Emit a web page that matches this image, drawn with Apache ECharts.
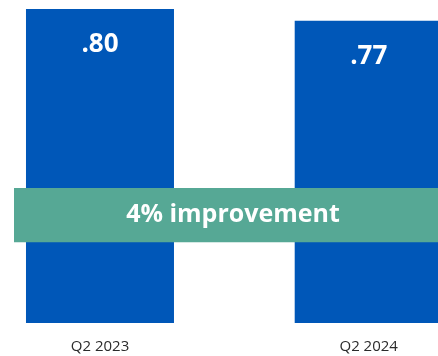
<!DOCTYPE html>
<html>
<head>
<meta charset="utf-8">
<script src="https://cdn.jsdelivr.net/npm/echarts@6/dist/echarts.min.js"></script>
<style>
  html, body { margin: 0; padding: 0; background: #ffffff; }
  #chart { width: 438px; height: 356px; }
</style>
</head>
<body>
<div id="chart"></div>
<script>
// Quarter labels and the metric value for each quarter
const categories = ['Q2 2023', 'Q2 2024'];
const values = [0.80, 0.77];
// Vertical span (in value units) of the highlight band across the bars
const bandRange = [0.206, 0.344];

const FONT = '"Open Sans", "Noto Sans", sans-serif';
const BLUE = '#0057B8';
const GREEN = '#56A895';

// Relative improvement between the two quarters
const improvement = Math.round((values[0] - values[1]) / values[0] * 100);

const chart = echarts.init(document.getElementById('chart'), null, { renderer: 'canvas' });

chart.setOption({
  animation: false,
  backgroundColor: '#ffffff',
  grid: { left: 14, right: -14, top: 9, bottom: 33, containLabel: false, outerBoundsMode: 'none' },
  xAxis: {
    type: 'value',
    min: -0.32,
    max: 1.31,
    axisLine: { show: false },
    axisTick: { show: false },
    splitLine: { show: false },
    axisLabel: {
      customValues: categories.map((c, i) => i),
      formatter: v => categories[v] || '',
      color: '#2b2b2b',
      fontFamily: FONT,
      fontSize: 15,
      margin: 16
    }
  },
  yAxis: { type: 'value', min: 0, max: 0.8, show: false },
  series: [{
    type: 'bar',
    barWidth: 148,
    clip: false,
    data: values.map((v, i) => [i, v]),
    itemStyle: { color: BLUE },
    label: {
      show: true,
      position: 'insideTop',
      distance: 23,
      formatter: p => p.value[1].toFixed(2).replace(/^0/, ''),
      color: '#ffffff',
      fontFamily: FONT,
      fontWeight: 'bold',
      fontSize: 26
    },
    markArea: {
      silent: true,
      z: 5,
      itemStyle: { color: GREEN },
      label: {
        show: true,
        position: 'inside',
        formatter: improvement + '% improvement',
        color: '#ffffff',
        fontFamily: FONT,
        fontWeight: 'bold',
        fontSize: 25
      },
      data: [[{ yAxis: bandRange[1] }, { yAxis: bandRange[0] }]]
    }
  }]
});
</script>
</body>
</html>
